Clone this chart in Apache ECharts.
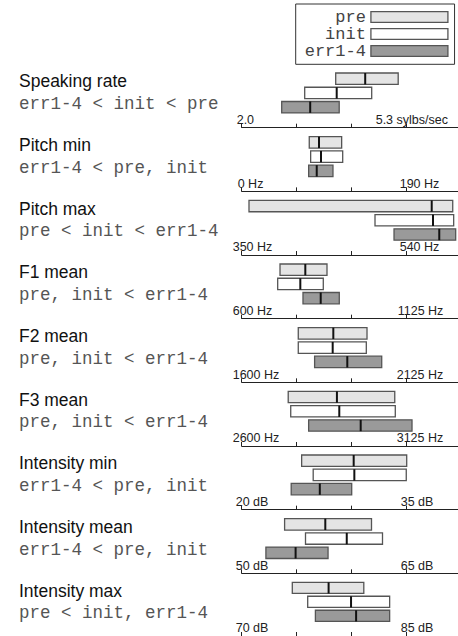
<!DOCTYPE html>
<html>
<head>
<meta charset="utf-8">
<script src="https://cdn.jsdelivr.net/npm/echarts@6/dist/echarts.min.js"></script>
<style>
  html, body { margin: 0; padding: 0; background: #fff; }
  #chart { width: 458px; height: 636px; }
</style>
</head>
<body>
<div id="chart"></div>
<script>
// Prosodic measures per condition: each box spans low..high with a median stroke.
const panelTitles = ['Speaking rate', 'Pitch min', 'Pitch max', 'F1 mean', 'F2 mean', 'F3 mean',
  'Intensity min', 'Intensity mean', 'Intensity max'];
const orderings = ['err1-4 < init < pre', 'err1-4 < pre, init', 'pre < init < err1-4',
  'pre, init < err1-4', 'pre, init < err1-4', 'pre, init < err1-4',
  'err1-4 < pre, init', 'err1-4 < pre, init', 'pre < init, err1-4'];
const axisMin = [2.0, 0, 350, 600, 1600, 2600, 20, 50, 70];
const axisMax = [5.3, 190, 540, 1125, 2125, 3125, 35, 65, 85];
const minLabels = ['2.0', '0 Hz', '350 Hz', '600 Hz', '1600 Hz', '2600 Hz', '20 dB', '50 dB', '70 dB'];
const maxLabels = ['5.3 sylbs/sec', '190 Hz', '540 Hz', '1125 Hz', '2125 Hz', '3125 Hz', '35 dB', '65 dB', '85 dB'];
const groups = ['pre', 'init', 'err1-4'];

const preLow = [3.88, 77.8, 358.4, 721.9, 1780, 2748, 25.45, 53.9, 74.6];
const preMedian = [4.47, 89.0, 568.8, 802.4, 1891.5, 2903, 30.18, 57.6, 77.9];
const preHigh = [5.13, 115.1, 593.0, 871.4, 1998.7, 3087, 35.0, 61.8, 81.1];

const initLow = [3.26, 79.4, 503.5, 714.5, 1780, 2756, 26.5, 55.8, 76.0];
const initMedian = [3.90, 91.3, 570.3, 786.5, 1889.5, 2910.5, 30.24, 59.55, 79.94];
const initHigh = [4.60, 116.3, 594.1, 859.6, 1996.5, 3088.7, 34.96, 62.8, 83.45];

const errLow = [2.80, 77.1, 525.4, 795, 1832, 2813, 24.5, 52.2, 76.7];
const errMedian = [3.37, 86.4, 577.5, 851.4, 1936, 2978.6, 27.1, 54.9, 80.4];
const errHigh = [3.95, 105.1, 596.4, 910.5, 2045.5, 3141.9, 30.0, 57.85, 83.45];

// ---- layout & styling ----
const W = 458, H = 636;
const axisLeft = 241.7;          // pixel of each panel's minimum
const spanPx = 165;              // pixels from minimum to maximum tick
const firstAxisY = 127.7;
const panelStep = 63.66;
const gridH = 56.1;
const yMin = -0.44, yMax = 3.5;
const rowOf = { 'pre': 3, 'init': 2, 'err1-4': 1 };
const fills = { 'pre': '#e4e4e4', 'init': '#ffffff', 'err1-4': '#9a9a9a' };
const minInset = [5, 4, 9, 9, 9, 9, 6, 6, 6];
const maxInset = [31, 7, 7, 9, 10, 10, 6, 6, 6];
const labelFont = { fontFamily: 'Liberation Sans', fontSize: 12.5, lineHeight: 12.5, color: '#222' };

const sets = {
  'pre': [preLow, preMedian, preHigh],
  'init': [initLow, initMedian, initHigh],
  'err1-4': [errLow, errMedian, errHigh]
};

function renderBox(params, api) {
  const lo = api.value(0), med = api.value(1), hi = api.value(2), row = api.value(3);
  const a = api.coord([lo, row]);
  const b = api.coord([hi, row]);
  const m = api.coord([med, row]);
  const h = api.size([0, 0.8])[1];
  const fill = api.visual('color');
  return {
    type: 'group',
    children: [
      { type: 'rect', shape: { x: a[0], y: a[1] - h / 2, width: b[0] - a[0], height: h },
        style: { fill: fill, stroke: '#555', lineWidth: 1.3 } },
      { type: 'line', shape: { x1: m[0], y1: a[1] - h / 2, x2: m[0], y2: a[1] + h / 2 },
        style: { stroke: '#111', lineWidth: 2 } }
    ]
  };
}

const grids = [], xAxes = [], yAxes = [], series = [], graphics = [];
const gridW = W - axisLeft;

panelTitles.forEach((title, i) => {
  const axisY = firstAxisY + i * panelStep;
  const lo = axisMin[i], hi = axisMax[i], d = hi - lo;
  const extMax = lo + d * gridW / spanPx;
  grids.push({ left: axisLeft, width: gridW, top: axisY - gridH, height: gridH });
  // axis line, ticks and the minimum label
  xAxes.push({
    type: 'value', gridIndex: i, position: 'bottom',
    min: lo, max: extMax,
    splitLine: { show: false },
    axisLine: { show: true, onZero: false, lineStyle: { color: '#222', width: 1 } },
    axisTick: { show: true, inside: true, length: 4, lineStyle: { color: '#222', width: 1 },
      customValues: [lo, lo + d / 3, lo + 2 * d / 3, hi] },
    axisLabel: Object.assign({
      show: true, inside: true, margin: 1.5, align: 'left',
      customValues: [lo],
      padding: [0, 0, 0, -minInset[i]],
      formatter: () => minLabels[i]
    }, labelFont)
  });
  // companion axis carrying the maximum label
  xAxes.push({
    type: 'value', gridIndex: i, position: 'bottom',
    min: lo, max: extMax,
    splitLine: { show: false },
    axisLine: { show: false, onZero: false },
    axisTick: { show: false },
    axisLabel: Object.assign({
      show: true, inside: true, margin: 1.5, align: 'left',
      customValues: [hi],
      padding: [0, 0, 0, -maxInset[i]],
      formatter: () => maxLabels[i]
    }, labelFont)
  });
  yAxes.push({ type: 'value', gridIndex: i, min: yMin, max: yMax, show: false });

  groups.forEach(g => {
    const s = sets[g];
    series.push({
      name: g, type: 'custom', xAxisIndex: 2 * i, yAxisIndex: i,
      itemStyle: { color: fills[g] },
      renderItem: renderBox,
      encode: { x: [0, 1, 2], y: 3 },
      data: [[s[0][i], s[1][i], s[2][i], rowOf[g]]],
      silent: true
    });
  });

  graphics.push({
    type: 'text', x: 19, y: axisY - 41 - 0.31 * 17.5,
    style: { text: title, font: '17.5px "Liberation Sans"', fill: '#111', verticalAlign: 'middle', align: 'left' }
  });
  graphics.push({
    type: 'text', x: 19, y: axisY - 19.5 - 0.235 * 17.5,
    style: { text: orderings[i], font: '17.5px "Liberation Mono"', fill: '#555', verticalAlign: 'middle', align: 'left' }
  });
});

const chart = echarts.init(document.getElementById('chart'), null, { renderer: 'svg', width: W, height: H });
chart.setOption({
  animation: false,
  backgroundColor: '#fff',
  grid: grids,
  xAxis: xAxes,
  yAxis: yAxes,
  legend: {
    orient: 'vertical', align: 'right',
    left: 295.7, top: 4,
    padding: [4.5, 6, 4.8, 9],
    borderColor: '#333', borderWidth: 1,
    itemWidth: 77, itemHeight: 10.7, itemGap: 0,
    selectedMode: false,
    icon: 'rect',
    textStyle: { fontFamily: 'Liberation Mono', fontSize: 17, color: '#444', lineHeight: 13.7 },
    data: groups.map(g => ({ name: g, itemStyle: { color: fills[g], borderColor: '#555', borderWidth: 1.3 } }))
  },
  graphic: graphics,
  series: series
});
</script>
</body>
</html>
